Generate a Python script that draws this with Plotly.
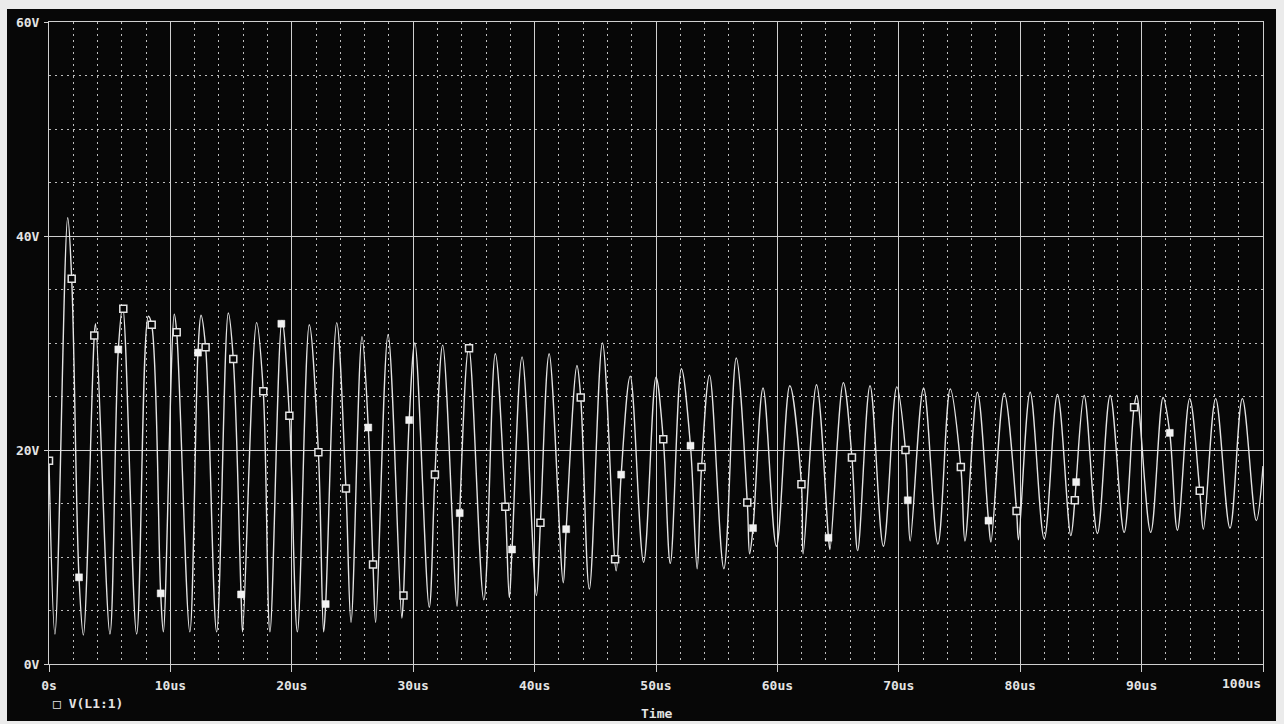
import plotly.graph_objects as go

# Transient result: voltage at node L1:1, 0..100 us
# Turning points of the waveform (time in us, volts)
extrema_t = [0.49, 1.54, 2.83, 3.84, 5.02, 6.07, 7.22, 8.18, 9.42, 10.32,
             11.60, 12.52, 13.81, 14.77, 15.95, 17.10, 18.20, 19.19, 20.46, 21.44,
             22.62, 23.70, 24.88, 25.78, 26.91, 27.93, 29.06, 30.14, 31.32, 32.43,
             33.61, 34.58, 35.82, 36.76, 37.92, 38.97, 40.15, 41.20, 42.36, 43.49,
             44.51, 45.59, 46.72, 47.88, 48.98, 50.00, 51.18, 52.09, 53.39, 54.41,
             55.59, 56.61, 57.71, 58.82, 59.92, 61.02, 62.12, 63.22, 64.33, 65.43,
             66.61, 67.63, 68.73, 69.83, 70.94, 72.04, 73.22, 74.24, 75.45, 76.47,
             77.59, 78.68, 79.86, 80.82, 81.98, 83.07, 84.17, 85.27, 86.36, 87.41,
             88.56, 89.60, 90.75, 91.77, 92.95, 93.96, 95.09, 96.10, 97.28, 98.30,
             99.45, 100.0]
extrema_v = [2.8, 41.7, 2.7, 31.8, 2.8, 33.4, 2.8, 32.5, 3.0, 32.7,
             3.0, 32.6, 3.0, 32.8, 3.0, 31.9, 3.0, 32.1, 3.0, 31.7,
             3.0, 31.9, 3.9, 30.6, 3.9, 30.8, 4.3, 30.0, 5.3, 29.8,
             5.4, 29.6, 6.0, 29.0, 6.2, 28.7, 6.4, 29.0, 7.6, 27.9,
             7.0, 30.0, 8.7, 26.9, 9.5, 26.8, 9.4, 27.6, 8.9, 27.0,
             8.9, 28.6, 10.3, 25.8, 11.0, 26.0, 10.3, 26.1, 10.7, 26.3,
             10.6, 26.0, 11.0, 25.9, 11.5, 25.8, 11.2, 25.7, 11.5, 25.4,
             11.4, 25.3, 11.6, 25.4, 11.7, 25.2, 12.0, 25.1, 12.2, 25.1,
             12.3, 25.1, 12.3, 24.9, 12.5, 24.8, 12.6, 24.8, 12.7, 24.8,
             13.4, 18.5]

# Sample markers on the trace (outlined and solid squares)
open_t = [0.0, 1.87, 3.73, 6.12, 8.46, 10.52, 12.90, 15.18, 17.65, 19.80,
          22.19, 24.46, 26.69, 29.20, 31.79, 34.60, 37.59, 40.48, 43.80, 46.63,
          50.60, 53.75, 57.52, 61.98, 66.14, 70.55, 75.11, 79.70, 84.50, 89.38,
          94.79]
open_v = [19.0, 36.0, 30.7, 33.2, 31.7, 31.0, 29.6, 28.5, 25.5, 23.2,
          19.8, 16.4, 9.3, 6.4, 17.7, 29.5, 14.7, 13.2, 24.9, 9.8,
          21.0, 18.4, 15.1, 16.8, 19.3, 20.0, 18.4, 14.3, 15.3, 24.0,
          16.2]
solid_t = [2.47, 5.71, 9.20, 12.27, 15.82, 19.14, 22.79, 26.30, 29.67, 33.83,
           38.14, 42.60, 47.13, 52.84, 57.99, 64.21, 70.74, 77.39, 84.61, 92.32]
solid_v = [8.1, 29.4, 6.6, 29.1, 6.5, 31.8, 5.6, 22.1, 22.8, 14.1,
           10.7, 12.6, 17.7, 20.4, 12.7, 11.8, 15.3, 13.4, 17.0, 21.6]

x_tick_vals = [0, 10, 20, 30, 40, 50, 60, 70, 80, 90, 100]
x_tick_text = ["0s", "10us", "20us", "30us", "40us", "50us", "60us",
               "70us", "80us", "90us", ""]
last_x_label = "100us"
y_tick_vals = [0, 20, 40, 60]
y_tick_text = ["0V", "20V", "40V", "60V"]
trace_name = "V(L1:1)"
x_title = "Time"

# The trace passes through its turning points and its sampled marker points
points = dict(zip(extrema_t, extrema_v))
for t, v in list(zip(open_t, open_v)) + list(zip(solid_t, solid_v)):
    if all(abs(t - e) > 0.1 for e in extrema_t):
        points[t] = v
line_t = sorted(points)
line_v = [points[t] for t in line_t]

FG = "#e4e4e4"
GRID = "#cfcfcf"
BG = "#070707"
FONT = dict(family="DejaVu Sans Mono", size=13, color=FG, weight="bold")

fig = go.Figure()
fig.add_trace(go.Scatter(
    x=line_t, y=line_v, mode="lines",
    line=dict(color=FG, width=1.4, shape="spline", smoothing=1.0),
    showlegend=False, hoverinfo="skip"))
fig.add_trace(go.Scatter(
    x=open_t, y=open_v, mode="markers", name=trace_name,
    marker=dict(symbol="square", size=7, color=BG,
                line=dict(color=FG, width=1.5)),
    showlegend=False))
fig.add_trace(go.Scatter(
    x=solid_t, y=solid_v, mode="markers",
    marker=dict(symbol="square", size=7, color="#f2f2f2",
                line=dict(color="#f2f2f2", width=0.5)),
    showlegend=False))

W, H = 1284, 724
L, R, T, B = 49, 21, 22, 60
pw, ph = W - L - R, H - T - B


def px_to_paper_x(px):
    return (px - L) / pw


def px_to_paper_y(py):
    return (H - B - py) / ph


fig.update_layout(
    width=W, height=H,
    margin=dict(l=L, r=R, t=T, b=B, pad=0),
    paper_bgcolor="#ebebeb",
    plot_bgcolor=BG,
    showlegend=False,
    font=FONT,
    shapes=[dict(type="rect", xref="paper", yref="paper", layer="below",
                 x0=px_to_paper_x(7), x1=px_to_paper_x(1276),
                 y0=px_to_paper_y(721), y1=px_to_paper_y(9),
                 fillcolor=BG, line=dict(width=0))],
    annotations=[
        dict(text=last_x_label, x=100, xref="x", xanchor="right",
             y=px_to_paper_y(683), yref="paper", yanchor="middle",
             showarrow=False, font=FONT),
        dict(text="\u25a1 " + trace_name, x=px_to_paper_x(51), xref="paper",
             xanchor="left", y=px_to_paper_y(703), yref="paper",
             yanchor="middle", showarrow=False, font=FONT),
        dict(text=x_title, x=0.5, xref="paper", xanchor="center",
             y=px_to_paper_y(714), yref="paper", yanchor="middle",
             showarrow=False, font=FONT),
    ],
)

fig.update_xaxes(
    range=[0, 100], tickvals=x_tick_vals, ticktext=x_tick_text,
    showline=True, mirror=True, linecolor=GRID, linewidth=1,
    showgrid=True, gridcolor=GRID, gridwidth=1,
    ticks="outside", ticklen=7, tickcolor=GRID, tickwidth=1,
    ticklabelstandoff=2, tickfont=FONT, zeroline=False,
    minor=dict(dtick=2, showgrid=True, gridcolor="#bdbdbd", gridwidth=1,
               griddash="2px,4px", ticks=""),
)
fig.update_yaxes(
    range=[0, 60], tickvals=y_tick_vals, ticktext=y_tick_text,
    showline=True, mirror=True, linecolor=GRID, linewidth=1,
    showgrid=True, gridcolor=GRID, gridwidth=1,
    ticks="outside", ticklen=4, tickcolor=GRID, tickwidth=1,
    ticklabelstandoff=2, tickfont=FONT, zeroline=False,
    minor=dict(dtick=5, showgrid=True, gridcolor="#bdbdbd", gridwidth=1,
               griddash="2px,4px", ticks=""),
)

fig.write_html("out.html")
